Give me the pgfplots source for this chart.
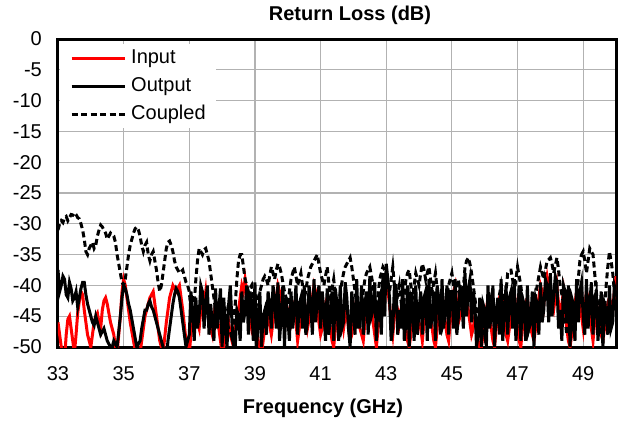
\documentclass[border=0pt]{standalone}
\usepackage{fontspec}
\setmainfont{Liberation Sans}
\usepackage{pgfplots}
\pgfplotsset{compat=1.18}
\usepackage{pgfplotstable}
\pgfplotstableread{
x I O C
33.0 -46 -37.5 -31
33.05 -48 -41 -30
33.1 -50 -40 -29.5
33.15 -51 -38.5 -29.8
33.2 -52 -39 -29
33.25 -48 -41.5 -28.8
33.3 -45.5 -42 -29.5
33.35 -45 -39.5 -29
33.4 -47 -40.5 -28.5
33.45 -49 -42.5 -28.6
33.5 -51 -42 -28.2
33.55 -48 -41 -28.5
33.6 -44.5 -43.5 -29
33.65 -42.5 -42 -29.2
33.7 -41 -40.5 -30
33.75 -41.5 -39.5 -31
33.8 -44 -39.5 -32.5
33.85 -46 -41.5 -34.5
33.9 -48 -43 -35
33.95 -49 -44 -34
34.0 -50 -45 -33.5
34.05 -48 -46 -33
34.1 -46 -46.5 -34
34.15 -45 -45 -33.5
34.2 -44.5 -46 -32
34.25 -46 -47 -31
34.3 -47 -48 -30.2
34.35 -44 -47.5 -30.5
34.4 -42.5 -47 -31
34.45 -42 -48 -31.5
34.5 -43 -49 -32.5
34.55 -44.5 -49.5 -32
34.6 -46 -50 -31.5
34.65 -47 -50 -31.8
34.7 -48 -49 -32
34.75 -50 -49.5 -33
34.8 -51 -50 -35
34.85 -48 -47.5 -36.5
34.9 -45 -45 -38
34.95 -41 -42 -39.5
35.0 -39 -40 -40
35.05 -40 -40.5 -39
35.1 -42 -41.5 -37
35.15 -44 -43 -35
35.2 -46 -44 -33.5
35.25 -47.5 -45.5 -32.5
35.3 -49 -47 -31.5
35.35 -50.5 -48.5 -30.8
35.4 -52 -50 -30.5
35.45 -52 -49.5 -31
35.5 -51 -49 -32
35.55 -49 -47 -33.5
35.6 -47 -45.5 -34.5
35.65 -45 -44 -33.5
35.7 -44 -44 -33
35.75 -43 -43 -35
35.8 -42 -42.5 -36
35.85 -41.5 -43.5 -35
35.9 -41 -44 -34.5
35.95 -43 -45 -36
36.0 -45 -46 -37.5
36.05 -47 -47 -39.5
36.1 -49 -48 -41
36.15 -50 -49 -40
36.2 -51 -50 -38
36.25 -48.5 -51 -36
36.3 -46 -52 -34
36.35 -44 -49 -33
36.4 -42 -47 -32.8
36.45 -41 -45 -33.5
36.5 -40 -43 -34.5
36.55 -40.5 -41.5 -36
36.6 -41 -40.5 -37
36.65 -40.5 -41 -37.5
36.7 -40 -42 -38
36.75 -42 -44 -37.8
36.8 -44 -46 -37.5
36.85 -46.5 -48 -38.5
36.9 -49 -50 -39.5
36.95 -50 -49 -40
37.0 -51 -48 -41
37.05 -48 -41 -44
37.1 -46 -44 -46
37.15 -44 -49 -43
37.2 -44 -42 -39
37.25 -46 -47 -36
37.3 -47 -45 -34
37.35 -44 -40 -34.5
37.4 -42 -41 -35
37.45 -43 -47 -34.2
37.5 -41 -43 -34
37.55 -44 -40 -35
37.6 -45 -48 -36
37.65 -47 -43 -38
37.7 -48 -46 -40
37.75 -45 -49 -42
37.8 -43 -40.5 -44
37.85 -45 -47 -43.5
37.9 -47 -44 -43
37.95 -49 -40.5 -44.5
38.0 -51 -50 -45
38.05 -50 -42 -44.5
38.1 -48 -47 -44
38.15 -47 -50 -46
38.2 -46 -43 -47
38.25 -48 -40 -47.5
38.3 -49 -46 -48.5
38.35 -48 -50 -46
38.4 -47 -50 -43
38.45 -45 -44 -39
38.5 -44 -45 -36
38.55 -42 -49 -35
38.6 -40 -41 -35
38.65 -41 -46 -37
38.7 -39 -44 -39
38.75 -41 -40 -40
38.8 -43 -48 -41
38.85 -45 -41 -40.5
38.9 -47 -43 -40
38.95 -46 -49 -42
39.0 -44 -39.5 -44
39.05 -47 -50 -43
39.1 -49 -46 -42
39.15 -50 -41 -41
39.2 -51 -50 -40
39.25 -49 -45 -39
39.3 -47 -44 -38.5
39.35 -46 -48 -39
39.4 -45 -41 -40
39.45 -46.5 -43 -38.5
39.5 -48 -47 -37
39.55 -46 -40 -38
39.6 -44 -42 -39
39.65 -42 -47 -37.5
39.7 -40 -39.5 -36.5
39.75 -41 -49 -37
39.8 -42 -45 -38
39.85 -45 -40 -39.5
39.9 -47 -50 -41
39.95 -46 -42 -42
40.0 -44 -45 -43
40.05 -45 -49 -41
40.1 -46 -41 -39
40.15 -44 -47 -38
40.2 -43 -44 -37
40.25 -46 -40 -38.5
40.3 -49 -48 -40
40.35 -47 -43 -39
40.4 -45 -42 -38
40.45 -43 -47 -40
40.5 -42 -40 -42
40.55 -45 -48 -41
40.6 -47 -46 -39
40.65 -45.5 -40 -38
40.7 -44 -43 -37
40.75 -42 -48 -36.5
40.8 -40 -39 -36
40.85 -41 -46 -35.5
40.9 -43 -42 -35
40.95 -46 -40 -36.5
41.0 -48 -47 -38
41.05 -47 -41 -39
41.1 -45 -44 -40
41.15 -43 -49 -38.5
41.2 -42 -40.5 -37
41.25 -45 -48 -39.5
41.3 -47 -45 -42
41.35 -49 -41 -40.5
41.4 -50 -49 -39
41.45 -47 -40.5 -41.5
41.5 -45 -43 -44
41.55 -44 -49 -43
41.6 -43 -40 -41
41.65 -45 -47 -39.5
41.7 -47 -46 -38
41.75 -45 -39.5 -37
41.8 -44 -42 -36.5
41.85 -47 -47 -36
41.9 -49 -50 -35.5
41.95 -48 -41 -37
42.0 -46 -44 -39
42.05 -44 -48 -41
42.1 -42 -39 -43
42.15 -44 -47 -45
42.2 -47 -45 -46
42.25 -48 -40 -44
42.3 -49 -48 -41
42.35 -46 -43 -39
42.4 -44 -41 -38
42.45 -42 -48 -37.5
42.5 -41 -38.5 -37
42.55 -43 -45 -38.5
42.6 -46 -44 -40
42.65 -48 -39.5 -42
42.7 -50 -49 -44
42.75 -47 -43 -42
42.8 -45 -42 -39
42.85 -43 -48 -38
42.9 -41 -38 -37
42.95 -40 -45 -37.5
43.0 -39 -36.5 -38
43.05 -41 -39 -39.5
43.1 -43 -42 -41
43.15 -46 -49 -39
43.2 -48 -47 -37
43.25 -45 -40 -40
43.3 -43 -40 -43
43.35 -44 -48 -41.5
43.4 -46 -44 -40
43.45 -44 -47 -42.5
43.5 -42 -39 -45
43.55 -45 -49 -42
43.6 -47 -46 -39
43.65 -49 -40 -38
43.7 -50 -50 -37.5
43.75 -48 -42 -40
43.8 -46 -43 -42
43.85 -44 -49 -40
43.9 -43 -40 -38
43.95 -44 -48 -39
44.0 -46 -44 -40
44.05 -47 -41 -38
44.1 -49 -48 -36.5
44.15 -46 -42 -37.5
44.2 -44 -41 -39
44.25 -43 -49 -38
44.3 -42 -39 -37
44.35 -45 -47 -39
44.4 -47 -45 -41
44.45 -49 -41 -39.5
44.5 -50 -49 -38
44.55 -47 -40 -40.5
44.6 -44 -42 -43
44.65 -42 -48 -45
44.7 -41 -39 -47
44.75 -44 -47 -46
44.8 -46 -44 -44
44.85 -48 -40 -42
44.9 -49 -48 -40
44.95 -46 -41 -39
45.0 -43 -41 -38
45.05 -41 -47 -40
45.1 -40 -39 -42
45.15 -43 -48 -40.5
45.2 -46 -45 -39
45.25 -45 -40 -41.5
45.3 -44 -42 -44
45.35 -42 -47 -40.5
45.4 -41 -38 -37
45.45 -42 -45 -36
45.5 -44 -40.5 -35.5
45.55 -46 -39 -36.5
45.6 -48 -46 -38
45.65 -47 -41 -40
45.7 -45 -43 -42
45.75 -47 -50 -44
45.8 -49 -48 -46
45.85 -50 -42 -45
45.9 -50 -50 -44
45.95 -48 -43 -46
46.0 -46 -44 -48
46.05 -44 -50 -46.5
46.1 -42 -40 -45
46.15 -44 -47 -43.5
46.2 -47 -45 -42
46.25 -49 -40 -44
46.3 -50 -50 -46
46.35 -47 -44 -44.5
46.4 -44 -42 -43
46.45 -42 -48 -41.5
46.5 -41 -39 -40
46.55 -43 -49 -42
46.6 -46 -44 -44
46.65 -48 -40 -41
46.7 -49 -48 -38
46.75 -47 -42 -37.5
46.8 -44 -41 -37.5
46.85 -42 -47 -39
46.9 -41 -39 -41
46.95 -44 -49 -39
47.0 -47 -45 -37
47.05 -49 -40 -38.5
47.1 -50 -49 -40
47.15 -47 -42 -42.5
47.2 -45 -43 -45
47.25 -43 -49 -46.5
47.3 -42 -40 -48
47.35 -45 -47 -47
47.4 -47 -46 -46
47.45 -48 -41 -44.5
47.5 -49 -50 -43
47.55 -47 -42 -41.5
47.6 -44 -43 -40
47.65 -42 -48 -38.5
47.7 -40 -39.5 -37
47.75 -41 -46 -38
47.8 -43 -44 -39
47.85 -40 -39 -37.5
47.9 -38.5 -40 -36
47.95 -40 -46 -35.8
48.0 -41 -38 -35.5
48.05 -43 -45 -36.5
48.1 -44 -42 -38
48.15 -42 -38.5 -36.8
48.2 -40 -39.5 -35.5
48.25 -43 -47 -37.5
48.3 -45 -44 -40
48.35 -43 -49 -41.5
48.4 -41 -40 -43
48.45 -44 -41 -45.5
48.5 -47 -46 -48
48.55 -49 -40 -46
48.6 -50 -50 -44
48.65 -48 -42 -45.5
48.7 -45 -43 -47
48.75 -43 -49 -44.5
48.8 -41 -39 -42
48.85 -42 -46 -39
48.9 -43 -41 -36
48.95 -45 -39.5 -35
49.0 -47 -45 -34.5
49.05 -44 -48 -36
49.1 -41 -39 -38
49.15 -42 -47 -36
49.2 -44 -43 -34
49.25 -47 -39.5 -34.5
49.3 -49 -48 -35
49.35 -46 -42 -38
49.4 -43 -41 -41
49.45 -44 -49 -43.5
49.5 -46 -45 -46
49.55 -48 -41 -47.5
49.6 -49 -50 -49
49.65 -47 -43 -44.5
49.7 -45 -44 -40
49.75 -43 -48 -37
49.8 -42 -40 -34.5
49.85 -43 -47 -36
49.9 -44 -46 -38
49.95 -41 -40 -41
50.0 -38.5 -41 -44
}\rl
\newcommand\cf{\fontsize{20bp}{24bp}\selectfont}
\begin{document}
\begin{tikzpicture}
\path[use as bounding box] (-58bp,-76bp) rectangle (562bp,347bp);
\begin{axis}[
 at={(0,0)}, anchor=south west,
 scale only axis, width=558bp, height=308bp,
 xmin=33, xmax=50, ymin=-50, ymax=0,
 xtick={33,35,...,49}, ytick={-50,-45,...,0},
 grid=major, major grid style={color=black!30, line width=1.2bp},
 major tick length=0pt,
 axis line style={line width=3bp},
 tick label style={font=\cf},
 /pgf/number format/assume math mode=true,
 xticklabel style={anchor=base, yshift=-33bp},
 yticklabel style={anchor=east, inner sep=0pt, xshift=-16bp},
 title={Return Loss (dB)},
 title style={font=\bfseries\cf, at={(axis description cs:0.5,1)}, anchor=base, xshift=13bp, yshift=13bp},
 xlabel={Frequency (GHz)},
 xlabel style={font=\bfseries\cf, at={(axis description cs:0.5,0)}, anchor=base, xshift=-14bp, yshift=-66bp},
 legend style={at={(axis description cs:0,1)}, anchor=north west, xshift=2bp, yshift=-5bp,
   draw=none, fill=white, inner xsep=10bp, inner ysep=4bp, row sep=8bp, font=\cf,
   nodes={inner sep=0pt, text height=15bp, text depth=5bp},
   /tikz/every odd column/.append style={column sep=5bp}},
 legend cell align=left,
 legend image code/.code={\draw[#1] (0bp,0bp) -- (53bp,0bp);},
]
\addplot[red, line width=3bp] table[x=x, y=I] {\rl};
\addlegendentry{Input}
\addplot[black, line width=3bp] table[x=x, y=O] {\rl};
\addlegendentry{Output}
\addplot[black, line width=3bp, dash pattern=on 6bp off 3.5bp] table[x=x, y=C] {\rl};
\addlegendentry{Coupled}
\end{axis}
\end{tikzpicture}
\end{document}
